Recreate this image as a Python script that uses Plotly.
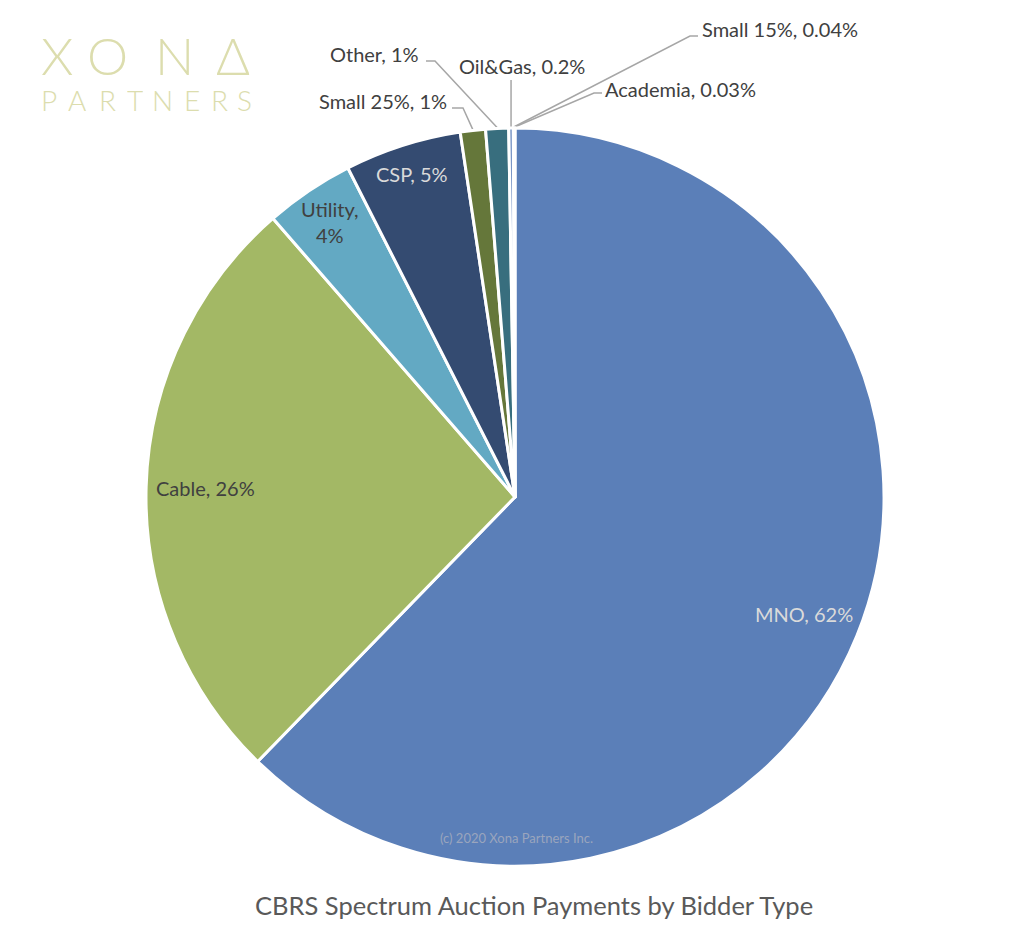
import math
import plotly.graph_objects as go

# ---- data ----
categories = ["MNO", "Cable", "Utility", "CSP", "Small 25%", "Other", "Oil&Gas", "Small 15%", "Academia"]
values = [62.2, 26.3, 3.9, 5.1, 1.1, 1.0, 0.2, 0.04, 0.03]
label_texts = ["MNO, 62%", "Cable, 26%", "Utility,<br>4%", "CSP, 5%", "Small 25%, 1%",
               "Other, 1%", "Oil&Gas, 0.2%", "Small 15%, 0.04%", "Academia, 0.03%"]
colors = ["#5B7FB8", "#A3B865", "#63A9C3", "#344B71", "#65773A", "#386E7E",
          "#7A96C6", "#B7C98E", "#8CC0D3"]
title_text = "CBRS Spectrum Auction Payments by Bidder Type"
copyright_text = "(c) 2020 Xona Partners Inc."
logo_top = ["X", "O", "N", "Δ"]
logo_bottom = list("PARTNERS")

W, H = 1024, 932
CX, CY, R = 515, 497, 369
FONT = "Lato"

fig = go.Figure()
fig.add_trace(go.Pie(
    labels=categories, values=values, sort=False, direction="clockwise", rotation=0,
    marker=dict(colors=colors, line=dict(color="white", width=3)),
    textinfo="none", hoverinfo="label+percent", showlegend=False,
    domain=dict(x=[(CX - R) / W, (CX + R) / W], y=[1 - (CY + R) / H, 1 - (CY - R) / H]),
))

total = sum(values)
cum = 0
mids = []
for v in values:
    mids.append(2 * math.pi * (cum + v / 2) / total)
    cum += v

def pt(theta, r):
    return CX + r * math.sin(theta), CY - r * math.cos(theta)

annotations = []
# inside labels
inside = {0: (0.845, "#DADADA"), 1: (0.84, "#404040"), 2: (0.90, "#404040"), 3: (0.92, "#DADADA")}
for i, (rf, col) in inside.items():
    x, y = pt(mids[i], rf * R)
    annotations.append(dict(x=x, y=y, xref="x", yref="y", text=label_texts[i], showarrow=False,
                            font=dict(family=FONT, size=20, color=col), xanchor="center", yanchor="middle"))

# outside labels with leader lines: (text anchor x, y, xanchor, elbow points)
outside = {
    4: (449, 101, "right", [(452, 108), (463, 108)]),
    5: (421, 54, "right", [(426, 61), (435, 61)]),
    6: (522, 66, "center", [(511, 80)]),
    7: (700, 29, "left", [(698, 36), (690, 36)]),
    8: (603, 89, "left", [(602, 93), (594, 93)]),
}
for i, (tx, ty, xa, elbow) in outside.items():
    annotations.append(dict(x=tx, y=ty, xref="x", yref="y", text=label_texts[i], showarrow=False,
                            font=dict(family=FONT, size=20, color="#404040"), xanchor=xa, yanchor="middle"))
    tip = pt(mids[i], R + 1)
    if i == 6:
        elbow = [(tip[0], elbow[0][1])]
    xs = [p[0] for p in elbow] + [tip[0]]
    ys = [p[1] for p in elbow] + [tip[1]]
    fig.add_trace(go.Scatter(x=xs, y=ys, mode="lines", line=dict(color="#A6A6A6", width=1.5),
                             hoverinfo="skip", showlegend=False))

# copyright
annotations.append(dict(x=516, y=838, xref="x", yref="y", text=copyright_text, showarrow=False,
                        font=dict(family=FONT, size=13, color="#9AA5BD"), xanchor="center", yanchor="middle"))
# title
annotations.append(dict(x=534, y=905, xref="x", yref="y", text=title_text, showarrow=False,
                        font=dict(family=FONT, size=25.5, color="#595959"), xanchor="center", yanchor="middle"))

# logo
logo_color = "#DCDDAE"
for ch, x in zip(logo_top, [57, 107, 174, 233]):
    annotations.append(dict(x=x, y=55, xref="x", yref="y", text=ch, showarrow=False, height=44,
                            font=dict(family=FONT, size=52, color=logo_color, weight=300),
                            xanchor="center", yanchor="middle"))
for ch, x in zip(logo_bottom, [49, 77, 107, 135, 162, 192, 219, 244]):
    annotations.append(dict(x=x, y=100, xref="x", yref="y", text=ch, showarrow=False, height=24,
                            font=dict(family=FONT, size=28, color=logo_color, weight=300),
                            xanchor="center", yanchor="middle"))

fig.update_layout(
    width=W, height=H, margin=dict(l=0, r=0, t=0, b=0),
    paper_bgcolor="white", plot_bgcolor="rgba(0,0,0,0)",
    xaxis=dict(range=[0, W], visible=False, fixedrange=True, domain=[0, 1]),
    yaxis=dict(range=[H, 0], visible=False, fixedrange=True, domain=[0, 1]),
    annotations=annotations, showlegend=False,
)
fig.write_html("out.html", config={"displayModeBar": False},
               post_script="document.body.style.margin='0';document.body.style.overflow='hidden';")
